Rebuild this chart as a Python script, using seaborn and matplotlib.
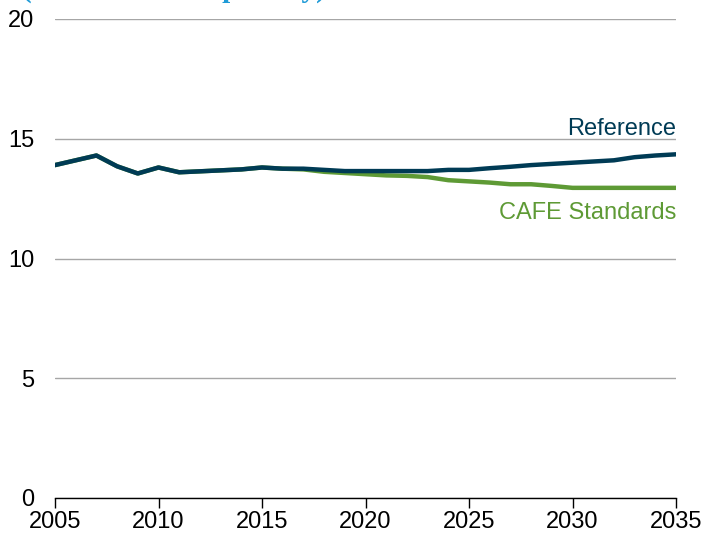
import matplotlib
matplotlib.use("Agg")
import matplotlib.pyplot as plt
import seaborn as sns
import pandas as pd
from matplotlib import font_manager

sns.set_style("white")
plt.rcParams['font.family'] = ['Liberation Sans', 'DejaVu Sans']

years = list(range(2005, 2036))
reference = [13.9, 14.1, 14.3, 13.85, 13.55, 13.8, 13.6, 13.64, 13.68, 13.72,
             13.8, 13.75, 13.75, 13.7, 13.65, 13.65, 13.65, 13.65, 13.65, 13.7,
             13.7, 13.77, 13.83, 13.9, 13.95, 14.0, 14.05, 14.1, 14.23, 14.3, 14.35]
cafe = [13.9, 14.1, 14.3, 13.85, 13.55, 13.8, 13.6, 13.64, 13.68, 13.72,
        13.8, 13.75, 13.72, 13.62, 13.57, 13.52, 13.47, 13.45, 13.4, 13.27,
        13.22, 13.17, 13.1, 13.1, 13.03, 12.95, 12.95, 12.95, 12.95, 12.95, 12.95]

df = pd.DataFrame({"year": years, "Reference": reference, "CAFE Standards": cafe})

navy = "#003b55"
green = "#5e9a35"

fig = plt.figure(figsize=(7.05, 5.35), dpi=100)
ax = fig.add_axes([55 / 705, 1 - 498 / 535, 621 / 705, 479 / 535])

sns.lineplot(data=df, x="year", y="CAFE Standards", color=green, linewidth=3.2, ax=ax)
sns.lineplot(data=df, x="year", y="Reference", color=navy, linewidth=3.2, ax=ax)

ax.set_xlim(2005, 2035)
ax.set_ylim(0, 20)
ax.set_xticks(range(2005, 2036, 5))
ax.set_yticks([0, 5, 10, 15, 20])
ax.set_xlabel("")
ax.set_ylabel("")
ax.yaxis.grid(True, color="#a6a6a6", linewidth=1)
ax.set_axisbelow(True)
for side in ["left", "right", "top"]:
    ax.spines[side].set_visible(False)
ax.spines["bottom"].set_color("black")
ax.spines["bottom"].set_linewidth(1)
ax.tick_params(axis="x", direction="out", length=7, width=1, color="black",
               labelsize=17, labelcolor="black", pad=2, bottom=True)
ax.tick_params(axis="y", length=0, labelsize=17, labelcolor="black", pad=15)

names = {f.name for f in font_manager.fontManager.ttflist}
if "Liberation Sans Narrow" in names:
    for lab in ax.get_xticklabels():
        lab.set_family("Liberation Sans Narrow")
        lab.set_fontsize(18.5)

ax.text(2035, 15.17, "Reference", color=navy, fontsize=17, ha="right", va="baseline")
ax.text(2035, 11.67, "CAFE Standards", color=green, fontsize=17, ha="right", va="baseline")

fig.text(22 / 705, 1 + 3 / 535, "(million barrels per day)", color="#1f9bd7",
         fontsize=21, fontweight="bold", family=["Liberation Serif", "DejaVu Serif"],
         ha="left", va="baseline")

fig.savefig("out.png", dpi=100)
